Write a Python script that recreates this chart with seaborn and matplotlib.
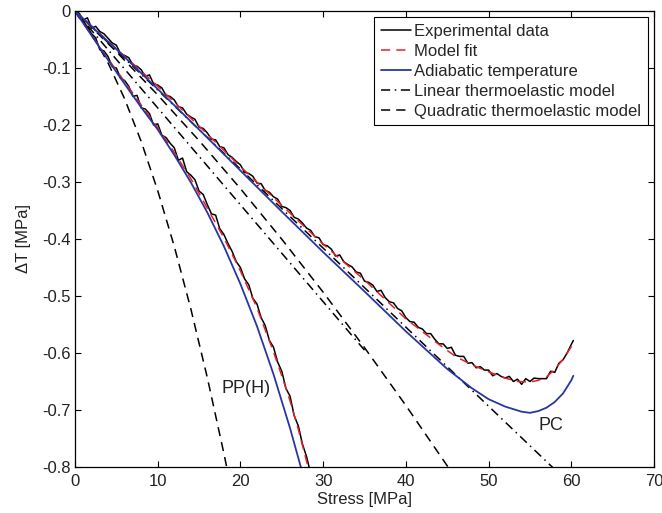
import matplotlib
matplotlib.use("Agg")
import matplotlib.pyplot as plt
import seaborn as sns
from matplotlib.lines import Line2D
from matplotlib.ticker import FuncFormatter

# --- PC (polycarbonate) ---
pc_exp_x = [0, 0.5, 1, 1.5, 2, 2.5, 3, 3.5, 4, 4.5, 5, 5.5, 6, 6.5, 7, 7.5, 8, 8.5, 9, 9.5,
            10, 10.5, 11, 11.5, 12, 12.5, 13, 13.5, 14, 14.5, 15, 15.5, 16, 16.5, 17, 17.5, 18, 18.5, 19, 19.5,
            20, 20.5, 21, 21.5, 22, 22.5, 23, 23.5, 24, 24.5, 25, 25.5, 26, 26.5, 27, 27.5, 28, 28.5, 29, 29.5,
            30, 30.5, 31, 31.5, 32, 32.5, 33, 33.5, 34, 34.5, 35, 35.5, 36, 36.5, 37, 37.5, 38, 38.5, 39, 39.5,
            40, 40.5, 41, 41.5, 42, 42.5, 43, 43.5, 44, 44.5, 45, 45.5, 46, 46.5, 47, 47.5, 48, 48.5, 49, 49.5,
            50, 50.5, 51, 51.5, 52, 52.5, 53, 53.5, 54, 54.5, 55, 55.5, 56, 56.5, 57, 57.5, 58, 58.5, 59, 59.5,
            60, 60.25]
pc_exp_y = [0.0, -0.004, -0.016, -0.012, -0.030, -0.027, -0.036, -0.040, -0.048, -0.056,
            -0.060, -0.075, -0.078, -0.082, -0.095, -0.097, -0.103, -0.115, -0.112, -0.128,
            -0.130, -0.135, -0.148, -0.150, -0.156, -0.168, -0.170, -0.181, -0.186, -0.190,
            -0.204, -0.206, -0.214, -0.225, -0.226, -0.238, -0.240, -0.252, -0.257, -0.264,
            -0.270, -0.283, -0.285, -0.290, -0.302, -0.303, -0.315, -0.318, -0.326, -0.330,
            -0.343, -0.345, -0.350, -0.362, -0.365, -0.372, -0.381, -0.385, -0.396, -0.398,
            -0.410, -0.412, -0.418, -0.430, -0.428, -0.440, -0.445, -0.449, -0.458, -0.460,
            -0.474, -0.476, -0.481, -0.492, -0.490, -0.503, -0.510, -0.512, -0.522, -0.526,
            -0.538, -0.545, -0.546, -0.555, -0.558, -0.566, -0.566, -0.576, -0.584, -0.584,
            -0.592, -0.590, -0.604, -0.606, -0.606, -0.618, -0.617, -0.626, -0.624, -0.630,
            -0.630, -0.640, -0.636, -0.641, -0.644, -0.641, -0.650, -0.646, -0.655, -0.645,
            -0.650, -0.644, -0.645, -0.645, -0.645, -0.632, -0.634, -0.618, -0.612, -0.600,
            -0.585, -0.578]

pc_fit_x = [0, 5, 10, 15, 20, 25, 30, 35, 40, 44, 46, 48, 50, 52, 53.5, 55, 56, 57, 58, 59, 60, 60.25]
pc_fit_y = [0, -0.066, -0.132, -0.202, -0.273, -0.341, -0.409, -0.472, -0.540, -0.585, -0.606,
            -0.621, -0.633, -0.644, -0.650, -0.651, -0.648, -0.642, -0.629, -0.611, -0.589, -0.582]

pc_adia_x = [0, 5, 10, 15, 20, 25, 30, 35, 40, 45, 48, 50, 52, 54, 55, 56, 57, 58, 59, 60, 60.25]
pc_adia_y = [0, -0.067, -0.137, -0.208, -0.280, -0.352, -0.423, -0.492, -0.562, -0.628, -0.662,
             -0.681, -0.694, -0.703, -0.705, -0.702, -0.696, -0.686, -0.671, -0.648, -0.640]

pc_lin_x = [0, 60]
pc_lin_y = [0, -0.832]

pc_quad_x = [0, 5, 10, 15, 20, 25, 30, 35, 40, 45, 47]
pc_quad_y = [0, -0.0715, -0.1473, -0.2274, -0.3117, -0.4004, -0.4933, -0.5906, -0.6921, -0.7979, -0.8414]

# --- PP(H) ---
pp_exp_x = [0, 0.5, 1, 1.5, 2, 2.5, 3, 3.5, 4, 4.5, 5, 5.5, 6, 6.5, 7, 7.5, 8, 8.5, 9, 9.5,
            10, 10.5, 11, 11.5, 12, 12.5, 13, 13.5, 14, 14.5, 15, 15.5, 16, 16.5, 17, 17.5, 18, 18.5, 19, 19.5,
            20, 20.5, 21, 21.5, 22, 22.5, 23, 23.5, 24, 24.5, 25, 25.5, 26, 26.5, 27, 27.5, 28, 28.5]
pp_exp_y = [0, -0.012, -0.018, -0.028, -0.040, -0.047, -0.068, -0.070, -0.080, -0.098,
            -0.100, -0.118, -0.122, -0.132, -0.150, -0.148, -0.170, -0.172, -0.180, -0.200,
            -0.198, -0.218, -0.222, -0.232, -0.240, -0.262, -0.258, -0.282, -0.288, -0.296,
            -0.316, -0.322, -0.340, -0.356, -0.358, -0.382, -0.392, -0.408, -0.422, -0.440,
            -0.450, -0.470, -0.480, -0.504, -0.514, -0.538, -0.552, -0.578, -0.590, -0.616,
            -0.632, -0.662, -0.676, -0.710, -0.728, -0.760, -0.782, -0.812]

pp_fit_x = [0, 2, 4, 6, 8, 10, 12, 14, 16, 18, 20, 22, 24, 25, 26, 27, 28, 28.5]
pp_fit_y = [0, -0.0426, -0.084, -0.124, -0.165, -0.205, -0.248, -0.294, -0.346, -0.398, -0.456,
            -0.521, -0.598, -0.640, -0.684, -0.734, -0.790, -0.818]

pp_adia_x = [0, 2, 4, 6, 8, 10, 12, 14, 16, 18, 20, 22, 24, 26, 27.3, 28]
pp_adia_y = [0, -0.043, -0.086, -0.128, -0.169, -0.208, -0.2525, -0.3006, -0.3536, -0.4127,
             -0.479, -0.553, -0.6374, -0.732, -0.800, -0.8387]

pp_lin_x = [0, 35]
pp_lin_y = [0, -0.595]

pp_quad_x = [0, 2, 4, 6, 8, 10, 12, 14, 16, 18, 19]
pp_quad_y = [0, -0.0398, -0.0912, -0.1542, -0.2289, -0.3151, -0.4129, -0.5224, -0.6435, -0.7761, -0.8468]

legend_labels = ["Experimental data", "Model fit", "Adiabatic temperature",
                 "Linear thermoelastic model", "Quadratic thermoelastic model"]

sns.set_style("ticks")
plt.rcParams['font.family'] = ['Liberation Sans', 'DejaVu Sans']
plt.rcParams['axes.unicode_minus'] = False

BLUE = '#2a36a0'
RED = '#e5202a'
DASH = (6, 4)
DASHDOT = (6, 3, 1, 3)
FS = 12

fig = plt.figure(figsize=(6.62, 5.13), dpi=100)
ax = fig.add_axes([0.1133, 0.0897, 0.8746, 0.8889])

for xs, ys in [(pp_quad_x, pp_quad_y), (pc_quad_x, pc_quad_y)]:
    sns.lineplot(x=xs, y=ys, ax=ax, color='black', linewidth=1.1).lines[-1].set_dashes(DASH)
for xs, ys in [(pp_lin_x, pp_lin_y), (pc_lin_x, pc_lin_y)]:
    sns.lineplot(x=xs, y=ys, ax=ax, color='black', linewidth=1.1).lines[-1].set_dashes(DASHDOT)
for xs, ys in [(pp_exp_x, pp_exp_y), (pc_exp_x, pc_exp_y)]:
    sns.lineplot(x=xs, y=ys, ax=ax, color='black', linewidth=1.1)
for xs, ys in [(pp_fit_x, pp_fit_y), (pc_fit_x, pc_fit_y)]:
    sns.lineplot(x=xs, y=ys, ax=ax, color=RED, linewidth=1.1).lines[-1].set_dashes(DASH)
for xs, ys in [(pp_adia_x, pp_adia_y), (pc_adia_x, pc_adia_y)]:
    sns.lineplot(x=xs, y=ys, ax=ax, color=BLUE, linewidth=1.3)

ax.set_xlim(0, 70)
ax.set_ylim(-0.8, 0)
ax.set_xticks(range(0, 71, 10))
ax.set_yticks([-0.8, -0.7, -0.6, -0.5, -0.4, -0.3, -0.2, -0.1, 0])
ax.yaxis.set_major_formatter(FuncFormatter(lambda v, p: '0' if abs(v) < 1e-9 else f'{v:.1f}'.replace('\u2212', '-')))
ax.tick_params(direction='in', top=True, right=True, length=4, width=0.8, labelsize=FS, pad=3,
               colors='black', labelcolor='#222222')
ax.tick_params(axis='x', pad=5)
for s in ax.spines.values():
    s.set_linewidth(0.9)
    s.set_color('black')
ax.set_xlabel("Stress [MPa]", fontsize=FS, labelpad=2, color='#222222')
ax.set_ylabel("\u0394T [MPa]", fontsize=FS, labelpad=8, color='#222222')

ax.text(20.7, -0.663, "PP(H)", fontsize=13, ha='center', va='center', color='#222222')
ax.text(57.6, -0.728, "PC", fontsize=13, ha='center', va='center', color='#222222')

handles = [
    Line2D([], [], color='black', linewidth=1.1),
    Line2D([], [], color=RED, linewidth=1.1, dashes=DASH),
    Line2D([], [], color=BLUE, linewidth=1.3),
    Line2D([], [], color='black', linewidth=1.1, dashes=DASHDOT),
    Line2D([], [], color='black', linewidth=1.1, dashes=DASH),
]
leg = ax.legend(handles, legend_labels, loc='upper right', bbox_to_anchor=(0.9896, 0.9868),
                borderaxespad=0, fontsize=FS, fancybox=False, framealpha=1, edgecolor='black',
                handlelength=1.8, handletextpad=0.2, labelspacing=0.3, borderpad=0.4)
leg.get_frame().set_linewidth(0.8)

fig.savefig("out.png", dpi=100)
